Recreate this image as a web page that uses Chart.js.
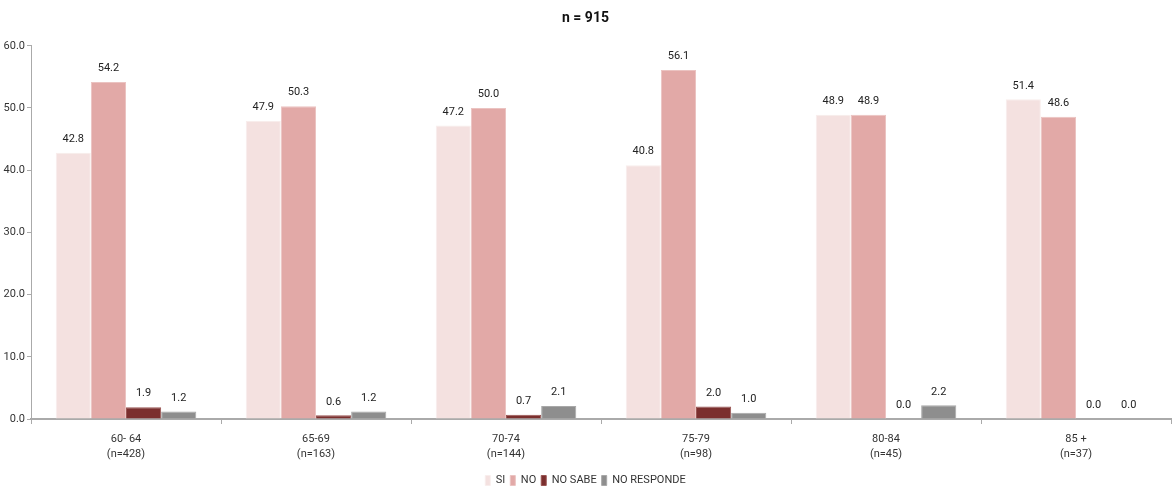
<!DOCTYPE html>
<html>
<head>
<meta charset="utf-8">
<script src="https://cdn.jsdelivr.net/npm/chart.js@4/dist/chart.umd.min.js"></script>
<style>
  body { margin: 0; background: #fff; }
  #wrap { width: 1172px; height: 489px; }
</style>
</head>
<body>
<div id="wrap"><canvas id="ageChart" width="1172" height="489"></canvas></div>
<script>
const categories = [
    ['60- 64', '(n=428)'],
    ['65-69', '(n=163)'],
    ['70-74', '(n=144)'],
    ['75-79', '(n=98)'],
    ['80-84', '(n=45)'],
    ['85 +', '(n=37)']
];
const siValues = [42.8, 47.9, 47.2, 40.8, 48.9, 51.4];
const noValues = [54.2, 50.3, 50.0, 56.1, 48.9, 48.6];
const noSabeValues = [1.9, 0.6, 0.7, 2.0, 0.0, 0.0];
const noRespondeValues = [1.2, 1.2, 2.1, 1.0, 2.2, 0.0];
const yTicks = [0, 10, 20, 30, 40, 50, 60];

const FONT = "Roboto, 'Liberation Sans', sans-serif";

// draws the value above each bar
const valueLabels = {
    id: 'valueLabels',
    afterDatasetsDraw(chart) {
        const ctx = chart.ctx;
        ctx.save();
        ctx.font = '11px ' + FONT;
        ctx.fillStyle = '#222';
        ctx.textAlign = 'center';
        ctx.textBaseline = 'bottom';
        chart.data.datasets.forEach((ds, i) => {
            chart.getDatasetMeta(i).data.forEach((bar, j) => {
                ctx.fillText(ds.data[j].toFixed(1), bar.x, bar.y - 8);
            });
        });
        ctx.restore();
    }
};

document.addEventListener('DOMContentLoaded', function () {
    const canvas = document.getElementById('ageChart');
    new Chart(canvas, {
        type: 'bar',
        data: {
            labels: categories,
            datasets: [
                { label: 'SI', data: siValues, backgroundColor: '#F4E1E0', borderColor: '#F8EDEC', borderWidth: 1 },
                { label: 'NO', data: noValues, backgroundColor: '#E2A9A7', borderColor: '#EBC3C1', borderWidth: 1 },
                { label: 'NO SABE', data: noSabeValues, backgroundColor: '#7B2F2E', borderColor: '#9A5553', borderWidth: 1 },
                { label: 'NO RESPONDE', data: noRespondeValues, backgroundColor: '#8E8E8E', borderColor: '#A8A8A8', borderWidth: 1 }
            ]
        },
        options: {
            responsive: false,
            animation: false,
            categoryPercentage: 0.74,
            barPercentage: 1.0,
            layout: { padding: { top: 0, right: 1, left: 0, bottom: -7 } },
            plugins: {
                title: {
                    display: true,
                    text: 'n = 915',
                    color: '#111',
                    font: { family: FONT, size: 14, weight: 'bold' },
                    padding: { top: 10, bottom: 19 }
                },
                legend: {
                    position: 'bottom',
                    labels: {
                        boxWidth: 5,
                        boxHeight: 10,
                        padding: 5,
                        color: '#333',
                        font: { family: FONT, size: 11 }
                    }
                },
                tooltip: { enabled: false }
            },
            scales: {
                x: {
                    offset: true,
                    afterFit(axis) { axis.height = 51; },
                    grid: {
                        display: true,
                        drawOnChartArea: false,
                        drawTicks: true,
                        tickLength: 5,
                        color: '#aaa',
                        offset: true
                    },
                    border: { color: '#aaa', width: 2 },
                    ticks: {
                        color: '#333',
                        font: { family: FONT, size: 11, lineHeight: 1.35 },
                        padding: 8,
                        maxRotation: 0
                    }
                },
                y: {
                    min: 0,
                    max: 60,
                    afterBuildTicks(axis) {
                        axis.ticks = yTicks.map(v => ({ value: v }));
                    },
                    afterFit(axis) { axis.width = 31; },
                    grid: { display: true, drawOnChartArea: false, tickLength: 4, color: '#aaa' },
                    border: { color: '#aaa', width: 1 },
                    ticks: {
                        color: '#333',
                        font: { family: FONT, size: 11 },
                        padding: 2,
                        callback: v => v.toFixed(1)
                    }
                }
            }
        },
        plugins: [valueLabels]
    });
});
</script>
</body>
</html>
